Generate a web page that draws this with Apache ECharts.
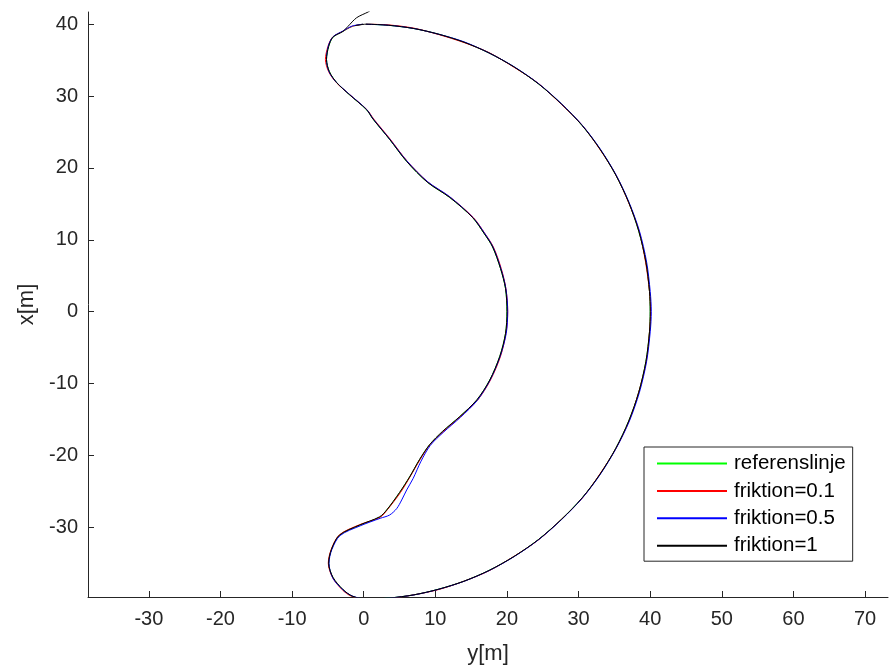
<!DOCTYPE html>
<html>
<head>
<meta charset="utf-8">
<script src="https://cdn.jsdelivr.net/npm/echarts@6/dist/echarts.min.js"></script>
<style>
html,body{margin:0;padding:0;background:#fff;}
#chart{width:889px;height:672px;}
</style>
</head>
<body>
<div id="chart"></div>
<script>
// Series names
const seriesNames = ['referenslinje', 'friktion=0.1', 'friktion=0.5', 'friktion=1'];
const seriesColors = ['#00ff00', '#ff0000', '#0000ff', '#000000'];

// Axis tick labels
const xTicks = [-30, -20, -10, 0, 10, 20, 30, 40, 50, 60, 70];
const yTicks = [-30, -20, -10, 0, 10, 20, 30, 40];

// Paths as [y, x] pairs (horizontal = y[m], vertical = x[m])
const referenslinje = [
  [0.3,40.0],[3.5,39.85],[7,39.4],[10.5,38.6],[14,37.5],[17.5,36.0],[21,34.05],[24.4,31.7],[27.6,28.9],[30.5,25.9],[33,22.6],[35.2,19.0],[37,15.2],[38.4,11.2],[39.4,6.9],[39.9,2.8],[40.0,0],
  [39.9,-2.8],[39.4,-6.9],[38.4,-11.2],[37,-15.2],[35.2,-19.0],[33,-22.6],[30.5,-25.9],[27.6,-28.9],[24.4,-31.7],[21,-34.05],[17.5,-36.0],[14,-37.5],[10.5,-38.6],[7,-39.4],[3.5,-39.85],[0.5,-40.0],
  [-1.6,-39.6],[-2.9,-38.7],[-4.3,-37.0],[-4.9,-35.0],[-4.5,-33.1],[-3.4,-31.1],[-0.6,-29.7],[2.2,-28.6],[3.2,-27.6],[5.0,-25.2],[6.4,-23.0],[7.8,-20.6],[9.2,-18.5],[11.0,-16.7],[13.4,-14.6],[15.8,-12.3],[17.6,-9.5],[19.0,-6.2],[19.8,-3.0],[20.0,0],
  [19.8,3.2],[19.1,6.0],[18.0,9.0],[16.8,10.9],[15.2,13.1],[12.0,15.9],[8.9,18.0],[6.0,20.9],[3.6,24.0],[1.3,26.8],[0.4,28.1],[-2.0,30.2],[-3.8,31.9],[-4.8,33.4],[-5.2,35.1],[-4.9,36.9],[-4.3,38.2],[-2.9,39.0],[-1.6,39.7],[-0.1,40.0]
];
const friktion01 = [
  [0.3,40.0],[3.5,39.9],[7,39.45],[10.5,38.55],[14,37.45],[17.5,36.05],[21,34.0],[24.4,31.75],[27.6,28.85],[30.5,25.95],[33,22.55],[35.2,19.05],[37,15.15],[38.45,11.2],[39.35,6.9],[39.9,2.8],[40.05,0],
  [39.9,-2.8],[39.45,-6.9],[38.4,-11.2],[37.05,-15.2],[35.2,-19.05],[33,-22.55],[30.55,-25.9],[27.6,-28.9],[24.4,-31.75],[21.05,-34.0],[17.5,-36.05],[14,-37.5],[10.5,-38.65],[7,-39.4],[3.5,-39.9],[0.5,-40.0],
  [-1.7,-39.6],[-3.0,-38.7],[-4.35,-37.0],[-4.95,-35.0],[-4.55,-33.1],[-3.4,-31.05],[-0.6,-29.65],[2.3,-28.6],[3.3,-27.55],[5.1,-25.2],[6.45,-23.0],[7.85,-20.6],[9.25,-18.5],[11.1,-16.7],[13.5,-14.6],[15.9,-12.3],[17.7,-9.5],[19.1,-6.2],[19.85,-3.0],[20.1,0],
  [19.85,3.2],[19.2,6.0],[18.1,9.0],[16.9,10.9],[15.3,13.1],[12.1,15.9],[9.0,18.0],[6.1,20.9],[3.7,24.0],[1.4,26.8],[0.45,28.1],[-1.95,30.2],[-3.8,31.85],[-4.9,33.4],[-5.35,35.1],[-5.0,36.9],[-4.35,38.2],[-2.95,39.0],[-1.6,39.7],[-0.1,40.0]
];
const friktion05 = [
  [0.3,40.0],[3.5,39.85],[7,39.4],[10.5,38.6],[14,37.55],[17.5,36.0],[21.05,34.05],[24.45,31.7],[27.65,28.9],[30.55,25.9],[33.05,22.6],[35.25,19.0],[37.05,15.2],[38.5,11.2],[39.5,6.9],[40.0,2.8],[40.15,0],
  [40.0,-2.8],[39.5,-6.9],[38.5,-11.2],[37.1,-15.2],[35.25,-19.0],[33.05,-22.6],[30.55,-25.9],[27.65,-28.9],[24.45,-31.7],[21.05,-34.05],[17.55,-36.0],[14.05,-37.5],[10.55,-38.6],[7.05,-39.4],[3.55,-39.85],[0.5,-40.0],
  [-1.5,-39.6],[-2.85,-38.75],[-4.3,-37.1],[-4.85,-35.0],[-4.45,-33.1],[-3.3,-31.15],[-0.5,-29.8],[2.3,-28.75],[3.6,-28.3],[4.6,-27.4],[5.3,-26.2],[6.0,-24.8],[6.9,-23.2],[8.0,-20.8],[9.3,-18.6],[11.1,-16.8],[13.5,-14.7],[15.85,-12.35],[17.65,-9.5],[19.05,-6.2],[19.9,-3.0],[20.1,0],
  [19.85,3.2],[19.15,6.0],[18.05,9.0],[16.85,10.95],[15.25,13.1],[12.0,16.0],[8.9,18.1],[6.0,21.0],[3.6,24.05],[1.3,26.85],[0.4,28.15],[-2.0,30.25],[-3.85,31.95],[-4.85,33.4],[-5.2,35.1],[-4.95,36.95],[-4.3,38.25],[-2.9,39.05],[-1.6,39.75],[-0.1,40.0]
];
const friktion1 = [
  [-1.2,39.8],[0.3,40.0],[3.5,39.85],[7,39.4],[10.5,38.6],[14,37.5],[17.5,36.0],[21,34.05],[24.4,31.7],[27.6,28.9],[30.5,25.9],[33,22.6],[35.2,19.0],[37,15.2],[38.4,11.2],[39.4,6.9],[39.9,2.8],[40.0,0],
  [39.9,-2.8],[39.4,-6.9],[38.4,-11.2],[37,-15.2],[35.2,-19.0],[33,-22.6],[30.5,-25.9],[27.6,-28.9],[24.4,-31.7],[21,-34.05],[17.5,-36.0],[14,-37.5],[10.5,-38.6],[7,-39.4],[3.5,-39.85],[0.5,-40.0],
  [-1.55,-39.6],[-2.9,-38.65],[-4.3,-36.95],[-4.9,-35.0],[-4.5,-33.05],[-3.4,-31.1],[-0.6,-29.7],[2.2,-28.55],[3.2,-27.6],[5.0,-25.15],[6.4,-23.0],[7.8,-20.55],[9.2,-18.5],[11.0,-16.65],[13.4,-14.6],[15.8,-12.25],[17.6,-9.5],[19.0,-6.2],[19.8,-3.0],[20.0,0],
  [19.8,3.2],[19.1,6.0],[18.0,9.0],[16.8,10.9],[15.2,13.1],[12.0,15.9],[8.9,18.0],[6.0,20.9],[3.6,24.0],[1.3,26.8],[0.4,28.1],[-2.0,30.2],[-3.8,31.9],[-4.8,33.4],[-5.2,35.1],[-4.9,36.9],[-4.3,38.2],[-2.9,39.0],[-2.2,39.7],[-1.0,40.9],[0.6,41.7],[1.4,42.2]
];

const paths = [referenslinje, friktion01, friktion05, friktion1];
const axisColor = '#262626';
const fontFam = '"Liberation Sans", Arial, Helvetica, sans-serif';

const chart = echarts.init(document.getElementById('chart'), null, {renderer: 'canvas'});
chart.setOption({
  animation: false,
  backgroundColor: '#ffffff',
  grid: {left: 88, right: 1, top: 12, bottom: 75, containLabel: false},
  legend: {
    orient: 'vertical',
    left: 644, top: 447,
    data: seriesNames,
    icon: 'rect',
    itemWidth: 70, itemHeight: 2,
    itemGap: 6.4,
    padding: [6, 7, 5, 13],
    backgroundColor: '#ffffff',
    borderColor: axisColor, borderWidth: 1,
    textStyle: {fontFamily: fontFam, fontSize: 20.5, lineHeight: 20, color: '#000000', padding: [0, 0, 0, 2]}
  },
  xAxis: {
    type: 'value', min: -38.5, max: 73.2,
    name: 'y[m]', nameLocation: 'middle', nameGap: 46,
    nameTextStyle: {fontFamily: fontFam, fontSize: 22, color: axisColor},
    axisLine: {show: true, onZero: false, lineStyle: {color: axisColor, width: 1}},
    axisTick: {show: true, inside: true, length: 6, customValues: xTicks, lineStyle: {color: axisColor}},
    axisLabel: {customValues: xTicks, fontFamily: fontFam, fontSize: 20, color: axisColor, margin: 12},
    splitLine: {show: false}
  },
  yAxis: {
    type: 'value', min: -39.7, max: 41.7,
    name: 'x[m]', nameLocation: 'middle', nameGap: 47, nameRotate: 90,
    nameTextStyle: {fontFamily: fontFam, fontSize: 22, color: axisColor},
    axisLine: {show: true, onZero: false, lineStyle: {color: axisColor, width: 1}},
    axisTick: {show: true, inside: true, length: 6, customValues: yTicks, lineStyle: {color: axisColor}},
    axisLabel: {customValues: yTicks, fontFamily: fontFam, fontSize: 20, color: axisColor, margin: 10},
    splitLine: {show: false}
  },
  series: seriesNames.map((n, i) => ({
    name: n,
    type: 'line',
    data: paths[i],
    showSymbol: false,
    symbol: 'none',
    smooth: 0.3,
    clip: true,
    lineStyle: {color: seriesColors[i], width: 1},
    itemStyle: {color: seriesColors[i]},
    z: 2 + i
  }))
});
</script>
</body>
</html>
